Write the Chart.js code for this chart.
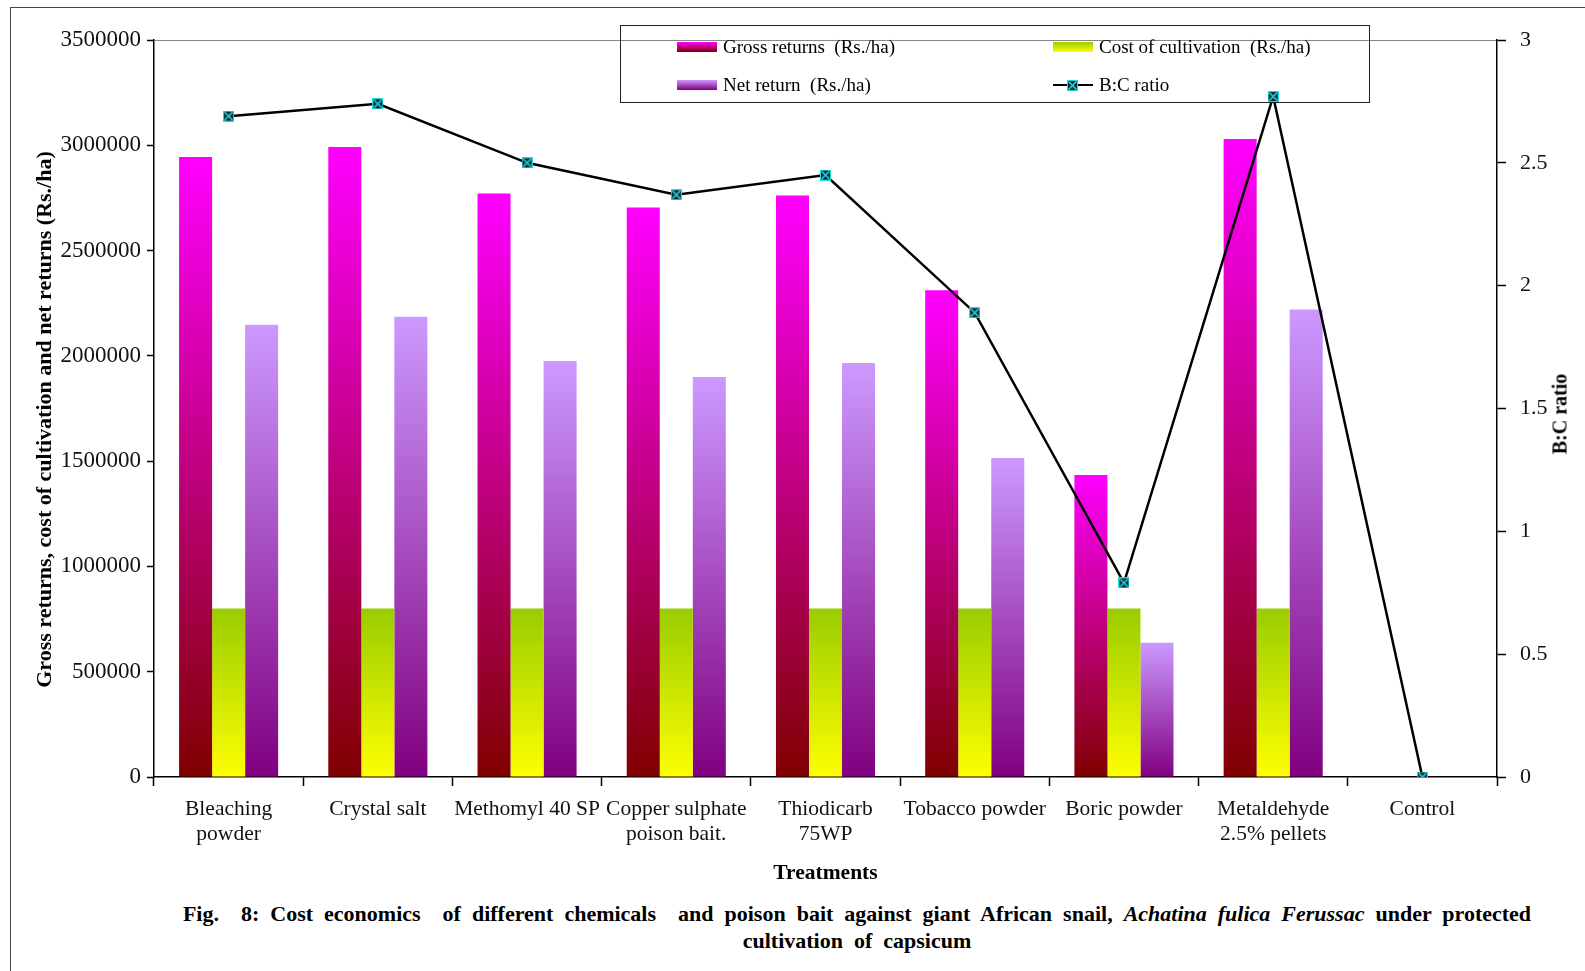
<!DOCTYPE html>
<html>
<head>
<meta charset="utf-8">
<script src="https://cdn.jsdelivr.net/npm/chart.js@4.4.1/dist/chart.umd.min.js"></script>
<style>
  body { margin: 0; background: #fff; overflow: hidden; }
  #wrap { position: relative; width: 1585px; height: 971px; background: #fff; font-family: "Liberation Serif", "Times New Roman", serif; color: #000; }
  #frame { position: absolute; left: 10px; top: 7px; width: 1600px; height: 1000px; border-left: 1.5px solid #444; border-top: 1.5px solid #444; }
  #chart { position: absolute; left: 0; top: 0; }
  #legend { position: absolute; left: 620px; top: 25px; width: 750px; height: 78px; border: 1.5px solid #222; box-sizing: border-box; }
  .item { position: absolute; display: flex; align-items: center; font-size: 19px; white-space: pre; }
  .swatch { width: 40px; height: 10px; margin-right: 6px; }
  #y1title { position: absolute; left: 1560px; top: 414px; transform: translate(-50%, -50%) rotate(-90deg); font-weight: bold; font-size: 20px; white-space: nowrap; }
  #caption { position: absolute; left: 0; width: 1714px; top: 900px; text-align: center; font-weight: bold; font-size: 22px; line-height: 27px; word-spacing: 5.5px; }
</style>
</head>
<body>
<div id="wrap">
  <div id="frame"></div>
  <canvas id="chart" width="1585" height="895"></canvas>
  <div id="legend"></div>
  <div id="y1title">B:C ratio</div>
  <div id="caption">Fig.&nbsp; 8: Cost economics&nbsp; of different chemicals&nbsp; and poison bait against giant African snail, <i>Achatina fulica Ferussac</i> under protected<br>cultivation of capsicum</div>
</div>
<script>
// Data
const treatments = [
  ["Bleaching", "powder"], ["Crystal salt"], ["Methomyl 40 SP"], ["Copper sulphate", "poison bait."],
  ["Thiodicarb", "75WP"], ["Tobacco powder"], ["Boric powder"], ["Metaldehyde", "2.5% pellets"], ["Control"]
]
const grossReturns = [2944000, 2992000, 2771000, 2704000, 2762000, 2311000, 1434000, 3030000, 0]
const costOfCultivation = [800000, 800000, 800000, 800000, 800000, 800000, 800000, 800000, 0]
const netReturns = [2148000, 2186000, 1975000, 1899000, 1966000, 1515000, 638000, 2220000, 0]
const bcRatio = [2.69, 2.74, 2.50, 2.37, 2.45, 1.89, 0.79, 2.77, 0]
const seriesNames = ["Gross returns  (Rs./ha)", "Cost of cultivation  (Rs./ha)", "Net return  (Rs./ha)", "B:C ratio"]
const leftMax = 3500000
const leftStep = 500000
const rightMax = 3
const rightStep = 0.5

const serif = "'Liberation Serif', 'Times New Roman', serif"

// per-bar vertical gradient, like the Excel fill
function barGradient(top, bottom) {
  return (ctx) => {
    const chart = ctx.chart
    if (!chart.chartArea || ctx.type !== "data") return top
    const y = chart.scales.y
    const yTop = y.getPixelForValue(ctx.raw)
    const yBot = y.getPixelForValue(0)
    if (yBot - yTop < 1) return top
    const g = chart.ctx.createLinearGradient(0, yTop, 0, yBot)
    g.addColorStop(0, top)
    g.addColorStop(1, bottom)
    return g
  }
}

function makeMarker() {
  const c = document.createElement("canvas")
  c.width = 11
  c.height = 11
  const g = c.getContext("2d")
  g.fillStyle = "#0b2a3a"
  g.fillRect(0, 0, 11, 11)
  g.strokeStyle = "#22d8d8"
  g.lineWidth = 1
  g.strokeRect(0.5, 0.5, 10, 10)
  g.lineWidth = 1.6
  g.beginPath()
  g.moveTo(1.5, 1.5); g.lineTo(9.5, 9.5)
  g.moveTo(9.5, 1.5); g.lineTo(1.5, 9.5)
  g.stroke()
  return c
}
const marker = makeMarker()

const colours = [
  ["#ff00ff", "#800000"],
  ["#99cc00", "#ffff00"],
  ["#cc99ff", "#800080"],
]

new Chart(document.getElementById("chart").getContext("2d"), {
  data: {
    labels: treatments,
    datasets: [
      { type: "line", label: seriesNames[3], data: bcRatio, yAxisID: "y1", order: 0,
        borderColor: "#000", borderWidth: 2.5, tension: 0,
        pointStyle: marker, pointRadius: 6 },
      { type: "bar", label: seriesNames[0], data: grossReturns, yAxisID: "y", order: 1,
        backgroundColor: barGradient(colours[0][0], colours[0][1]) },
      { type: "bar", label: seriesNames[1], data: costOfCultivation, yAxisID: "y", order: 1,
        backgroundColor: barGradient(colours[1][0], colours[1][1]) },
      { type: "bar", label: seriesNames[2], data: netReturns, yAxisID: "y", order: 1,
        backgroundColor: barGradient(colours[2][0], colours[2][1]) },
    ],
  },
  options: {
    responsive: false,
    animation: false,
    layout: { padding: { left: 28, right: 15, top: 40, bottom: 5 } },
    datasets: { bar: { categoryPercentage: 0.664, barPercentage: 1 } },
    plugins: { legend: { display: false }, tooltip: { enabled: false } },
    scales: {
      x: {
        afterFit: (s) => { s.height = 113 },
        grid: { offset: true, drawOnChartArea: false, tickLength: 9, tickColor: "#000", tickWidth: 1.5 },
        border: { color: "#000", width: 1.5 },
        ticks: { color: "#111", autoSkip: false, maxRotation: 0, padding: 11,
          font: { family: serif, size: 21.5, lineHeight: 1.17 } },
        title: { display: true, text: "Treatments", color: "#000",
          font: { family: serif, size: 21.5, weight: "bold" } },
      },
      y: {
        position: "left",
        min: 0, max: leftMax,
        afterFit: (s) => { s.width = 126 },
        grid: { color: (c) => (c.tick && c.tick.value === leftMax ? "#888" : "rgba(0,0,0,0)"),
          tickColor: "#000", tickLength: 7, tickWidth: 1.5 },
        border: { color: "#000", width: 1.5 },
        ticks: { stepSize: leftStep, color: "#111", padding: 6, callback: (v) => String(v),
          font: { family: serif, size: 23 } },
        // trailing spaces push the rotated title a little down the axis, as in the figure
        title: { display: true, text: "Gross returns, cost of cultivation and net returns (Rs./ha)\u00a0\u00a0\u00a0\u00a0", color: "#000",
          font: { family: serif, size: 22, weight: "bold" } },
      },
      y1: {
        position: "right",
        min: 0, max: rightMax,
        afterFit: (s) => { s.width = 73 },
        grid: { drawOnChartArea: false, tickColor: "#000", tickLength: 9, tickWidth: 1.5 },
        border: { color: "#000", width: 1.5 },
        ticks: { stepSize: rightStep, color: "#111", padding: 14, callback: (v) => String(v),
          font: { family: serif, size: 22 } },
      },
    },
  },
})

// Legend box in two columns, as in the figure
const legend = document.getElementById("legend")
const spots = [[56, 21], [432, 21], [56, 59], [432, 59]]
seriesNames.forEach((name, i) => {
  const item = document.createElement("div")
  item.className = "item"
  item.style.left = spots[i][0] + "px"
  item.style.top = spots[i][1] + "px"
  item.style.transform = "translateY(-50%)"
  let sw
  if (i < 3) {
    sw = document.createElement("div")
    sw.className = "swatch"
    sw.style.background = "linear-gradient(" + colours[i][0] + "," + colours[i][1] + ")"
  } else {
    sw = document.createElement("div")
    sw.className = "swatch"
    sw.style.position = "relative"
    sw.style.height = "12px"
    sw.style.background = "linear-gradient(transparent 5px, #000 5px, #000 7.5px, transparent 7.5px)"
    const m = document.createElement("canvas")
    m.width = 11; m.height = 11
    m.getContext("2d").drawImage(marker, 0, 0)
    m.style.position = "absolute"
    m.style.left = "14px"
    m.style.top = "0.5px"
    sw.appendChild(m)
  }
  const t = document.createElement("span")
  t.textContent = name
  item.appendChild(sw)
  item.appendChild(t)
  legend.appendChild(item)
})
</script>
</body>
</html>
